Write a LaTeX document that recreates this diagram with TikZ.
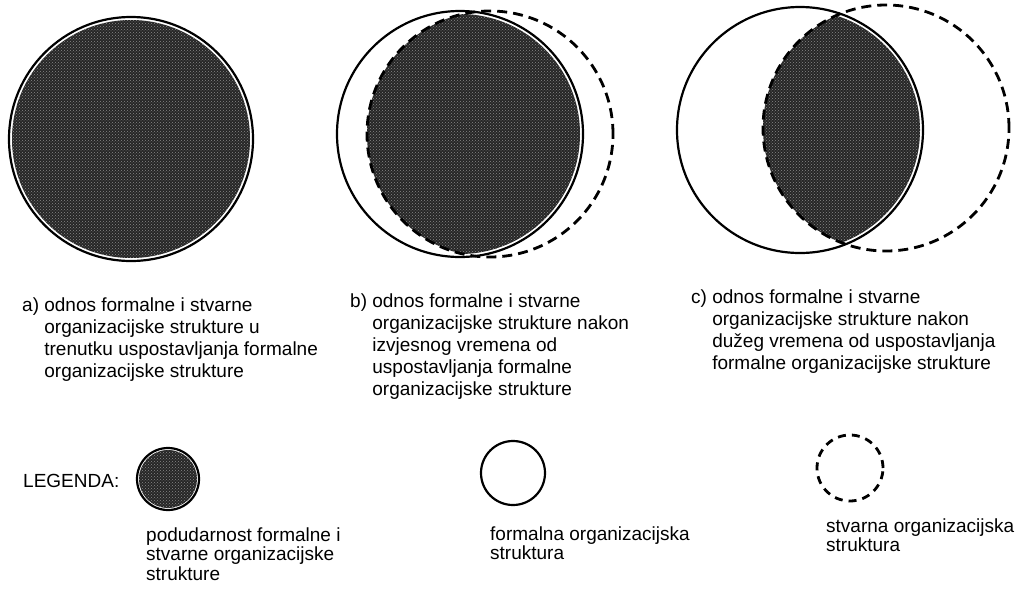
\documentclass[tikz,border=0pt]{standalone}
\usepackage{fontspec}
\setmainfont{Liberation Sans}
\usepackage{tikz}
\usetikzlibrary{positioning, patterns}
\definecolor{tamna}{HTML}{262626}
\definecolor{zrno}{HTML}{8A8A8A}

\begin{document}
\begin{tikzpicture}[x=1pt, y=-1pt,
    formal/.style={draw=black, line width=2.2pt},
    stvarna/.style={draw=black, line width=2.8pt, dash pattern=on 10pt off 6pt},
    podudarno/.style={fill=tamna, postaction={pattern=crosshatch dots, pattern color=zrno}},
    opis/.style={anchor=base west, inner sep=0pt, font=\fontsize{19}{22}\selectfont},
    legopis/.style={anchor=base west, inner sep=0pt, font=\fontsize{19}{19.5}\selectfont}]
  \useasboundingbox (0,0) rectangle (1021,592);

  \coordinate (ka) at (131,139);
  \coordinate (fb) at (460,134);
  \coordinate (sb) at (490,134);
  \coordinate (fc) at (800,130);
  \coordinate (sc) at (886,128);

  \fill[podudarno] (ka) circle[radius=119pt];
  \draw[formal] (ka) circle[radius=122pt];

  \begin{scope}
    \clip (fb) circle[radius=120pt];
    \fill[podudarno] (sb) circle[radius=123pt];
  \end{scope}
  \draw[formal] (fb) circle[radius=123pt];
  \draw[stvarna] (sb) circle[radius=123pt];

  \begin{scope}
    \clip (fc) circle[radius=120pt];
    \fill[podudarno] (sc) circle[radius=123pt];
  \end{scope}
  \draw[formal] (fc) circle[radius=123pt];
  \draw[stvarna] (sc) circle[radius=123pt];

  \node[opis] (capa) at (22,311) {\begin{tabular}[t]{@{}l@{ }l@{}}
    a)&odnos formalne i stvarne\\
    &organizacijske strukture u\\
    &trenutku uspostavljanja formalne\\
    &organizacijske strukture\end{tabular}};
  \node[opis] (capb) at (350,307) {\begin{tabular}[t]{@{}l@{ }l@{}}
    b)&odnos formalne i stvarne\\
    &organizacijske strukture nakon\\
    &izvjesnog vremena od\\
    &uspostavljanja formalne\\
    &organizacijske strukture\end{tabular}};
  \node[opis] (capc) at (691,303) {\begin{tabular}[t]{@{}l@{ }l@{}}
    c)&odnos formalne i stvarne\\
    &organizacijske strukture nakon\\
    &dužeg vremena od uspostavljanja\\
    &formalne organizacijske strukture\end{tabular}};

  \node[opis] (legenda) at (23,487) {LEGENDA:};
  \coordinate (lp) at (168,479);
  \coordinate (lf) at (513,473);
  \coordinate (ls) at (850,468);
  \fill[podudarno] (lp) circle[radius=29pt];
  \draw[formal] (lp) circle[radius=31pt];
  \draw[formal] (lf) circle[radius=32pt];
  \draw[stvarna, dash pattern=on 8pt off 6pt] (ls) circle[radius=33pt];

  \node[legopis] (legp) at (146,541) {\begin{tabular}[t]{@{}l@{}}
    podudarnost formalne i\\stvarne organizacijske\\strukture\end{tabular}};
  \node[legopis] (legf) at (490,540) {\begin{tabular}[t]{@{}l@{}}
    formalna organizacijska\\struktura\end{tabular}};
  \node[legopis] (legs) at (826,532) {\begin{tabular}[t]{@{}l@{}}
    stvarna organizacijska\\struktura\end{tabular}};
\end{tikzpicture}
\end{document}
